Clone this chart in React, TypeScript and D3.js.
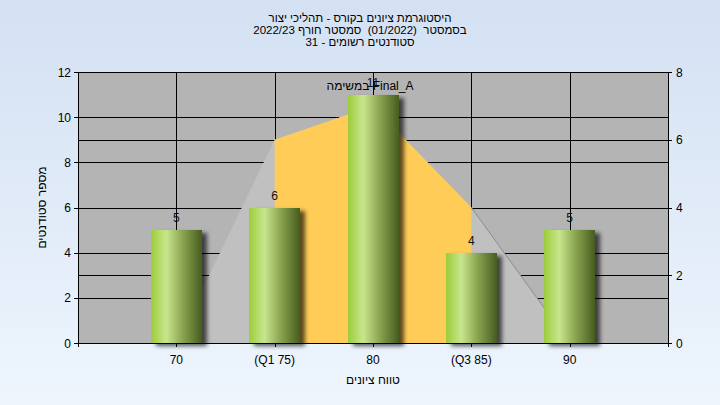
import React from "react";
import * as d3 from "d3";

const categories = [70, 75, 80, 85, 90];
const tickLabels = ["70", "(Q1 75)", "80", "(Q3 85)", "90"];
const counts = [5, 6, 11, 4, 5];
const curveValues = [0, 6, 7, 4, 0];
const q1 = 75;
const q3 = 85;
const leftTicks = [0, 2, 4, 6, 8, 10, 12];
const rightTicks = [0, 2, 4, 6, 8];
const titleLines = [
  "היסטוגרמת ציונים בקורס - תהליכי יצור",
  "בסמסטר  (01/2022)  סמסטר חורף 2022/23",
  "סטודנטים רשומים - 31",
];
const legendText = "במשימה Final_A";
const xTitle = "טווח ציונים";
const yTitle = "מספר סטודנטים";

const W = 720;
const H = 405;
const L = 78;
const R = 668;
const T = 72;
const B = 343;
const FONT = "'Liberation Sans', Arial, sans-serif";
const FS = 12;

export default function App() {
  const x = d3.scaleLinear().domain([65, 95]).range([L, R]);
  const yL = d3.scaleLinear().domain([0, 12]).range([B, T]);
  const yR = d3.scaleLinear().domain([0, 8]).range([B, T]);
  const step = x(75) - x(70);
  const barW = Math.round(step * 0.52);

  const pts = categories.map((c, i) => [c, curveValues[i]] as [number, number]);
  const area = d3
    .area<[number, number]>()
    .x((d) => x(d[0]))
    .y0(B)
    .y1((d) => yR(d[1]));
  const line = d3
    .line<[number, number]>()
    .x((d) => x(d[0]))
    .y((d) => yR(d[1]));
  const inner = pts.filter((d) => d[0] >= q1 && d[0] <= q3);
  const rightPart = pts.filter((d) => d[0] >= q3);

  const cr = (v: number) => Math.round(v) + 0.5;

  return (
    <svg
      width={W}
      height={H}
      style={{ position: "absolute", left: 0, top: 0 }}
      fontFamily={FONT}
    >
      <defs>
        <linearGradient id="bg" x1="0" y1="0" x2="0" y2="1">
          <stop offset="0" stopColor="#d3e1f3" />
          <stop offset="1" stopColor="#eef5fd" />
        </linearGradient>
        <linearGradient id="bar" x1="0" y1="0" x2="1" y2="0">
          <stop offset="0" stopColor="#9ccc3a" />
          <stop offset="0.3" stopColor="#c8e68e" />
          <stop offset="0.62" stopColor="#8aa450" />
          <stop offset="1" stopColor="#475c1f" />
        </linearGradient>
        <filter id="shadow" x="-30%" y="-10%" width="160%" height="130%">
          <feDropShadow dx="5" dy="3" stdDeviation="2" floodColor="#000" floodOpacity="0.65" />
        </filter>
      </defs>
      <rect x={0} y={0} width={W} height={H} fill="url(#bg)" />

      {/* title */}
      {titleLines.map((t, i) => (
        <text
          key={i}
          x={360}
          y={22 + i * 12}
          textAnchor="middle"
          direction="rtl"
          fontSize={11.5}
          fill="#000"
          style={{ whiteSpace: "pre" }}
        >
          {t}
        </text>
      ))}

      {/* plot background */}
      <rect x={L} y={T} width={R - L} height={B - T} fill="#b4b4b4" />

      {/* gridlines */}
      {leftTicks.map((t) => (
        <line key={"gl" + t} x1={L} x2={R} y1={cr(yL(t))} y2={cr(yL(t))} stroke="#000" />
      ))}
      {rightTicks.map((t) => (
        <line key={"gr" + t} x1={L} x2={R} y1={cr(yR(t))} y2={cr(yR(t))} stroke="#000" />
      ))}
      {categories.map((c) => (
        <line key={"gv" + c} x1={cr(x(c))} x2={cr(x(c))} y1={T} y2={B} stroke="#000" />
      ))}

      {/* distribution area */}
      <path d={area(pts) || ""} fill="#c0c0c0" />
      <path d={area(inner) || ""} fill="#ffcc57" />
      <path d={line(rightPart) || ""} fill="none" stroke="#8c8c8c" strokeWidth={1} />

      {/* bars */}
      {categories.map((c, i) => (
        <rect
          key={"b" + c}
          x={Math.round(x(c) - barW / 2)}
          y={Math.round(yL(counts[i]))}
          width={barW}
          height={B - Math.round(yL(counts[i]))}
          fill="url(#bar)"
          filter="url(#shadow)"
        />
      ))}

      {/* axes */}
      <line x1={cr(L)} x2={cr(L)} y1={T} y2={B + 4} stroke="#000" />
      <line x1={cr(R)} x2={cr(R)} y1={T} y2={B + 4} stroke="#000" />
      <line x1={L - 4} x2={R + 4} y1={cr(B)} y2={cr(B)} stroke="#000" />
      {leftTicks.map((t) => (
        <g key={"lt" + t}>
          <line x1={L - 4} x2={L} y1={cr(yL(t))} y2={cr(yL(t))} stroke="#000" />
          <text x={L - 7} y={yL(t) + 4.5} textAnchor="end" fontSize={FS} fill="#000">
            {t}
          </text>
        </g>
      ))}
      {rightTicks.map((t) => (
        <g key={"rt" + t}>
          <line x1={R} x2={R + 4} y1={cr(yR(t))} y2={cr(yR(t))} stroke="#000" />
          <text x={R + 8} y={yR(t) + 4.5} textAnchor="start" fontSize={FS} fill="#000">
            {t}
          </text>
        </g>
      ))}
      {categories.map((c, i) => (
        <g key={"xt" + c}>
          <line x1={cr(x(c))} x2={cr(x(c))} y1={B} y2={B + 4} stroke="#000" />
          <text x={x(c)} y={B + 21} textAnchor="middle" fontSize={FS} fill="#000">
            {tickLabels[i]}
          </text>
        </g>
      ))}

      {/* value labels */}
      {categories.map((c, i) => (
        <text
          key={"v" + c}
          x={x(c)}
          y={yL(counts[i]) - 8}
          textAnchor="middle"
          fontSize={FS}
          fill="#111"
        >
          {counts[i]}
        </text>
      ))}

      {/* legend / series name */}
      <text x={(L + R) / 2 - 3} y={90} textAnchor="middle" fontSize={FS} fill="#000">
        {legendText}
      </text>

      {/* axis titles */}
      <text
        x={(L + R) / 2}
        y={384}
        textAnchor="middle"
        direction="rtl"
        fontSize={FS}
        fill="#000"
      >
        {xTitle}
      </text>
      <text
        transform={`translate(46, ${(T + B) / 2}) rotate(-90)`}
        textAnchor="middle"
        direction="rtl"
        fontSize={FS}
        fill="#000"
      >
        {yTitle}
      </text>
    </svg>
  );
}
